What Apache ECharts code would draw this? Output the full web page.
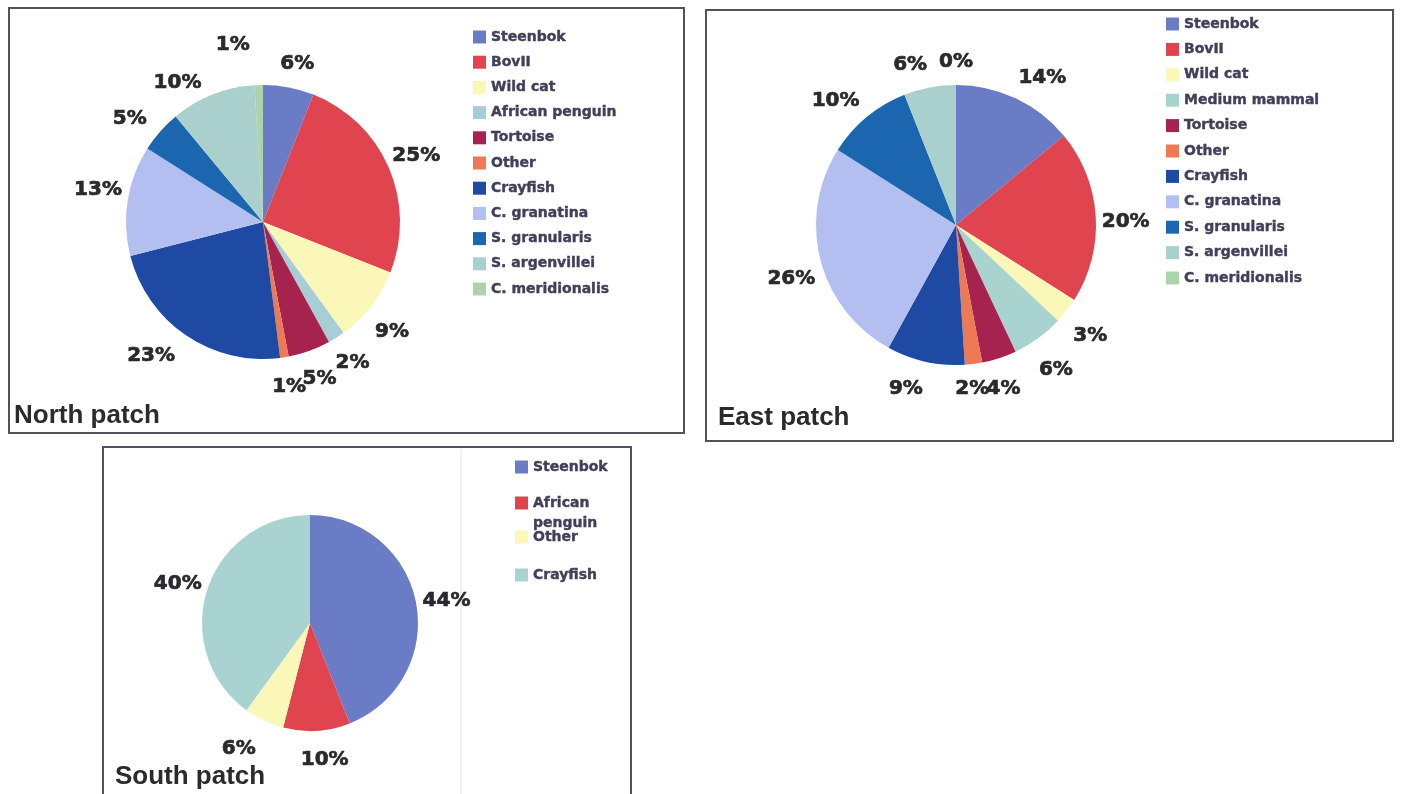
<!DOCTYPE html>
<html>
<head>
<meta charset="utf-8">
<title>Prey composition by patch</title>
<script src="https://cdn.jsdelivr.net/npm/echarts@6/dist/echarts.min.js"></script>
<style>
  html, body { margin: 0; padding: 0; background: #ffffff; }
  #chart { width: 1401px; height: 794px; }
</style>
</head>
<body>
<div id="chart"></div>
<script>
// ---- data (percent of diet, per patch) ----
const northCategories = ['Steenbok', 'BovII', 'Wild cat', 'African penguin', 'Tortoise', 'Other',
  'Crayfish', 'C. granatina', 'S. granularis', 'S. argenvillei', 'C. meridionalis'];
const northValues = [6, 25, 9, 2, 5, 1, 23, 13, 5, 10, 1];

const eastCategories = ['Steenbok', 'BovII', 'Wild cat', 'Medium mammal', 'Tortoise', 'Other',
  'Crayfish', 'C. granatina', 'S. granularis', 'S. argenvillei', 'C. meridionalis'];
const eastValues = [14, 20, 3, 6, 4, 2, 9, 26, 10, 6, 0];

const southCategories = ['Steenbok', 'African penguin', 'Other', 'Crayfish'];
const southValues = [44, 10, 6, 40];

// ---- styling ----
const northColors = ['#6b7cc6', '#e0444f', '#faf7b8', '#a9cdd6', '#a6224f', '#ee7a55',
  '#1f4aa3', '#b3bff0', '#1b66ae', '#a9d0cc', '#acd4ac'];
const eastColors = ['#6b7cc6', '#e0444f', '#faf7b8', '#a9d3cf', '#a6224f', '#ee7a55',
  '#1f4aa3', '#b3bff0', '#1b66ae', '#a9d0cc', '#acd4ac'];
const southColors = ['#6b7cc6', '#e0444f', '#faf7b8', '#a8d3d1'];

const labelFont = {
  fontFamily: 'DejaVu Sans', fontWeight: 'bold', fontSize: 20, color: '#2a2a2e',
  textBorderColor: '#2a2a2e', textBorderWidth: 0.7
};
const legendText = {
  fontFamily: 'DejaVu Sans', fontWeight: 'bold', fontSize: 14, color: '#40405a', lineHeight: 16,
  textBorderColor: '#40405a', textBorderWidth: 0.4
};
const titleFont = { fontFamily: 'Liberation Sans', fontWeight: 'bold', fontSize: 26, color: '#2b2b2b' };

// labelShift: whole-panel label offset; labelNudge: per-slice offsets where labels are pushed apart
const panels = [
  { name: 'North patch', cats: northCategories, vals: northValues, colors: northColors,
    center: [263, 222], radius: 137, labelGap: 30, labelShift: [0, 0],
    labelNudge: { 0: [3, 6], 2: [-3, 7], 6: [-18, -4], 7: [0, -6], 8: [-8, 7], 9: [-24, 16], 10: [-25, -10] } },
  { name: 'East patch', cats: eastCategories, vals: eastValues, colors: eastColors,
    center: [956, 225], radius: 140, labelGap: 30, labelShift: [0, 7],
    labelNudge: { 0: [14, 0], 4: [-5, -5], 5: [-5, -12], 6: [-13, -9], 7: [0, 5], 8: [-12, 0], 9: [-14, 0] } },
  { name: 'South patch', cats: southCategories, vals: southValues, colors: southColors,
    center: [310, 623], radius: 108, labelGap: 31, labelShift: [0, 4],
    labelNudge: { 1: [6, -6], 2: [-12, -4] } }
];

// centre each percentage label on the slice's mid-angle, just outside the rim
function labelPlacer(p) {
  const values = p.vals;
  const total = values.reduce((a, b) => a + b, 0);
  const dist = p.radius + p.labelGap;
  const mids = [];
  let acc = 0;
  values.forEach(v => { mids.push((acc + v / 2) / total * 2 * Math.PI); acc += v; });
  return function (params) {
    const a = mids[params.dataIndex];
    const nudge = p.labelNudge[params.dataIndex] || [0, 0];
    return {
      x: p.center[0] + dist * Math.sin(a) + p.labelShift[0] + nudge[0],
      y: p.center[1] - dist * Math.cos(a) + p.labelShift[1] + nudge[1],
      align: 'center',
      verticalAlign: 'middle'
    };
  };
}

const series = panels.map(p => ({
  type: 'pie',
  name: p.name,
  center: p.center,
  radius: p.radius,
  startAngle: 90,
  clockwise: true,
  avoidLabelOverlap: false,
  silent: true,
  animation: false,
  data: p.cats.map((c, i) => ({ name: c, value: p.vals[i], itemStyle: { color: p.colors[i] } })),
  label: Object.assign({ show: true, position: 'outside', formatter: '{c}%' }, labelFont),
  labelLine: { show: false, length: 10, length2: 0 },
  labelLayout: labelPlacer(p)
}));

function legendItems(cats, colors) {
  return cats.map((c, i) => ({ name: c, itemStyle: { color: colors[i] } }));
}

const legendBase = {
  orient: 'vertical', icon: 'rect', itemWidth: 13, itemHeight: 13,
  selectedMode: false, textStyle: legendText, padding: 0
};
const southItems = legendItems(southCategories, southColors);

const legends = [
  Object.assign({}, legendBase, { left: 473, top: 29, itemGap: 9.2,
    data: legendItems(northCategories, northColors) }),
  Object.assign({}, legendBase, { left: 1166, top: 16, itemGap: 9.4,
    data: legendItems(eastCategories, eastColors) }),
  // south legend: one entry per component so the wrapped label can run into the next row
  Object.assign({}, legendBase, { left: 515, top: 459, data: [southItems[0]] }),
  Object.assign({}, legendBase, { left: 515, top: 473, data: [southItems[1]],
    // blank first line keeps the swatch level with "African"
    formatter: n => ' \n' + n.replace(' ', '\n'),
    textStyle: Object.assign({}, legendText, { lineHeight: 20 }) }),
  Object.assign({}, legendBase, { left: 515, top: 529, data: [southItems[2]] }),
  Object.assign({}, legendBase, { left: 515, top: 567, data: [southItems[3]] })
];

const titles = [
  { text: 'North patch', left: 14, top: 403, padding: 0, textStyle: titleFont },
  { text: 'East patch', left: 718, top: 405, padding: 0, textStyle: titleFont },
  { text: 'South patch', left: 115, top: 764, padding: 0, textStyle: titleFont }
];

const frame = { stroke: '#50535e', lineWidth: 2, fill: 'none' };
const graphic = [
  { type: 'rect', shape: { x: 9, y: 8, width: 675, height: 425 }, style: frame, silent: true },
  { type: 'rect', shape: { x: 706, y: 10, width: 687, height: 431 }, style: frame, silent: true },
  { type: 'rect', shape: { x: 103, y: 447, width: 528, height: 360 }, style: frame, silent: true },
  { type: 'line', shape: { x1: 461, y1: 449, x2: 461, y2: 794 }, style: { stroke: '#e6e6e6', lineWidth: 1 }, silent: true }
];

const chart = echarts.init(document.getElementById('chart'), null, { renderer: 'canvas' });
chart.setOption({
  backgroundColor: '#ffffff',
  animation: false,
  title: titles,
  legend: legends,
  graphic: graphic,
  series: series
});
</script>
</body>
</html>
